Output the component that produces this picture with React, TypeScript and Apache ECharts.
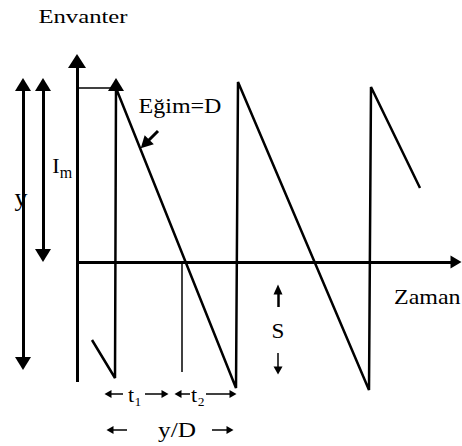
import React, { useEffect, useRef } from "react";
import * as echarts from "echarts";

// ---- data (time units on the horizontal, inventory units on the vertical) ----
const pathTimes = [1.5, 3.8, 3.9, 15.9, 16.1, 29.2, 29.4, 34.3];
const pathLevels = [-7.8, -11.6, 17.4, -12.6, 18.0, -12.8, 17.5, 7.4];

const timeAxisRange = [0, 37.9];
const invAxisRange = [-12.0, 20.1];
const peakGuide = [0, 3.9, 17.4]; // from time, to time, level
const peakArrow = [3.9, 16.8, 17.75]; // time, from level, to level
const imArrow = [-3.4, 0.65, 17.75]; // time, bottom, top
const yArrow = [-5.4, -10.15, 17.75];
const boundaryLine = [10.5, 0, -11.0];
const slopeArrowFrom = [8.1, 13.1];
const slopeArrowTo = [6.8, 11.8];
const sUpArrow = [20.1, -4.5, -2.75];
const sDownArrow = [20.1, -9.1, -10.85];

// interval dimension arrows: [from time, to time (tip), level]
const t1Arrows = [
  [4.6, 3.1, -13.2],
  [6.8, 8.8, -13.2],
];
const t2Arrows = [
  [11.3, 10.1, -13.2],
  [12.9, 15.6, -13.2],
];
const cycleArrows = [
  [5.0, 3.3, -16.8],
  [13.5, 15.3, -16.8],
];

const titles = ["Envanter", "Zaman", "Eğim=D"];
const sideLabels = ["I", "m", "y", "S"];
const bottomLabels = ["t₁", "t₂", "y/D"];

const FONT = "'Liberation Serif', 'Times New Roman', serif";

function arrowSeries(
  from: number[],
  to: number[],
  width: number,
  symbols: [string, string],
  size: number[]
) {
  return {
    type: "line",
    data: [],
    silent: true,
    markLine: {
      silent: true,
      animation: false,
      symbol: symbols,
      symbolSize: size,
      label: { show: false },
      emphasis: { disabled: true },
      lineStyle: { color: "#000", width, type: "solid" },
      data: [[{ coord: from }, { coord: to }]],
    },
  };
}

function txt(
  text: string,
  x: number,
  y: number,
  size: number,
  scaleX: number,
  align = "center"
) {
  return {
    type: "text",
    x,
    y,
    scaleX,
    silent: true,
    style: {
      text,
      fontSize: size,
      fontFamily: FONT,
      fill: "#000",
      textAlign: align,
      align,
      textVerticalAlign: "middle",
      verticalAlign: "middle",
    },
  };
}

export default function App() {
  const ref = useRef<HTMLDivElement>(null);
  useEffect(() => {
    if (!ref.current) return;
    const chart = echarts.init(ref.current, null, { renderer: "svg" });
    const pathData = pathTimes.map((t, i) => [t, pathLevels[i]]);
    const dimArrows = [...t1Arrows, ...t2Arrows, ...cycleArrows].map((a) =>
      arrowSeries([a[0], a[2]], [a[1], a[2]], 1.5, ["none", "triangle"], [8, 7])
    );
    const series: any[] = [
      {
        type: "line",
        data: pathData,
        symbol: "none",
        silent: true,
        lineStyle: { color: "#000", width: 2.5 },
      },
      // axes
      arrowSeries([0, invAxisRange[0]], [0, invAxisRange[1]], 3, ["none", "triangle"], [18, 14]),
      arrowSeries([timeAxisRange[0], 0], [timeAxisRange[1], 0], 3, ["none", "triangle"], [13, 11]),
      // peak guide & arrow
      arrowSeries([peakGuide[0], peakGuide[2]], [peakGuide[1], peakGuide[2]], 1.5, ["none", "none"], [1, 1]),
      arrowSeries([peakArrow[0], peakArrow[1]], [peakArrow[0], peakArrow[2]], 2.5, ["none", "triangle"], [16, 13]),
      // left double arrows
      arrowSeries([imArrow[0], imArrow[1]], [imArrow[0], imArrow[2]], 3, ["triangle", "triangle"], [16, 13]),
      arrowSeries([yArrow[0], yArrow[1]], [yArrow[0], yArrow[2]], 3, ["triangle", "triangle"], [16, 13]),
      // t1/t2 boundary
      arrowSeries([boundaryLine[0], boundaryLine[1]], [boundaryLine[0], boundaryLine[2]], 1.5, ["none", "none"], [1, 1]),
      // slope pointer
      arrowSeries(slopeArrowFrom, slopeArrowTo, 3, ["none", "triangle"], [13, 12]),
      // S arrows
      arrowSeries([sUpArrow[0], sUpArrow[1]], [sUpArrow[0], sUpArrow[2]], 2.5, ["none", "triangle"], [9, 10]),
      arrowSeries([sDownArrow[0], sDownArrow[1]], [sDownArrow[0], sDownArrow[2]], 1.5, ["none", "triangle"], [9, 8]),
      ...dimArrows,
    ];
    chart.setOption({
      animation: false,
      backgroundColor: "#fff",
      grid: { left: 0, right: 0, top: 0, bottom: 0, containLabel: false },
      xAxis: { type: "value", min: -7.7, max: 38.5, show: false },
      yAxis: { type: "value", min: -18.4, max: 26.2, show: false },
      series,
      graphic: [
        txt(titles[0], 83, 17, 19, 1.3),
        txt(titles[1], 394, 297, 20, 1.2, "left"),
        txt(titles[2], 180, 106, 20, 1.2),
        txt(sideLabels[0], 56, 165, 22, 1.0),
        txt(sideLabels[1], 66, 172, 16, 1.0),
        txt(sideLabels[2], 21, 197, 26, 1.0),
        txt(sideLabels[3], 278, 331, 21, 1.1),
        txt(bottomLabels[0], 135, 395, 20, 1.1),
        txt(bottomLabels[1], 198, 395, 20, 1.1),
        txt(bottomLabels[2], 177, 430, 22, 1.15),
      ],
    });
    return () => chart.dispose();
  }, []);
  return (
    <div
      ref={ref}
      style={{ position: "fixed", left: 0, top: 0, width: 462, height: 446, background: "#fff" }}
    />
  );
}
